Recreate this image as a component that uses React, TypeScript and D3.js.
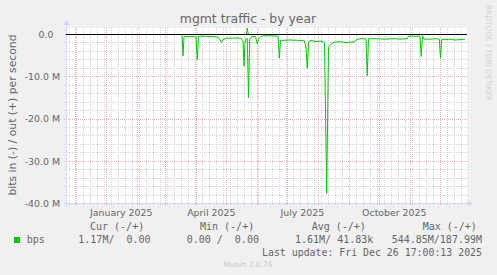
import React from 'react';
import * as d3 from 'd3';

const W = 497;
const H = 275;

const titleText = 'mgmt traffic - by year';
const yAxisTitle = 'bits in (-) / out (+) per second';
const watermark = 'RRDTOOL / TOBI OETIKER';
const footer = 'Munin 2.0.76';
const lastUpdate = 'Last update: Fri Dec 26 17:00:13 2025';

const endTime = new Date('2025-12-26T17:00:13');
const startTime = new Date(endTime.getTime() - 400 * 864e5);

const yTicksM = [0, -10, -20, -30, -40];
const yMinorStepM = 2;
const yTopM = 1.54;
const xLabelMonths = ['2025-01-01T00:00', '2025-04-01T00:00', '2025-07-01T00:00', '2025-10-01T00:00'];

// "in" traffic (Mbit/s), drawn negated
const inDates = [
  '2025-03-17T17:00', '2025-03-18T17:00', '2025-03-19T17:00', '2025-03-31T17:00', '2025-04-02T00:00',
  '2025-04-03T05:00', '2025-04-09T17:00', '2025-04-16T17:00', '2025-04-22T17:00', '2025-04-24T17:00',
  '2025-04-26T05:00', '2025-04-27T17:00', '2025-04-30T17:00', '2025-05-02T17:00', '2025-05-06T17:00',
  '2025-05-10T17:00', '2025-05-15T17:00', '2025-05-17T17:00', '2025-05-18T17:00', '2025-05-19T17:00',
  '2025-05-20T17:00', '2025-05-22T00:00', '2025-05-23T05:00', '2025-05-24T10:00', '2025-05-26T17:00',
  '2025-05-30T05:00', '2025-06-01T00:00', '2025-06-02T17:00', '2025-06-05T17:00', '2025-06-13T17:00',
  '2025-06-21T17:00', '2025-06-23T00:00', '2025-06-24T05:00', '2025-07-03T17:00', '2025-07-13T17:00',
  '2025-07-18T05:00', '2025-07-19T17:00', '2025-07-21T00:00', '2025-07-22T05:00', '2025-07-23T17:00',
  '2025-07-25T17:00', '2025-07-28T17:00', '2025-07-31T17:00', '2025-08-04T17:00', '2025-08-07T05:00',
  '2025-08-09T10:00', '2025-08-11T05:00', '2025-08-13T17:00', '2025-08-16T17:00', '2025-08-22T17:00',
  '2025-08-27T17:00', '2025-09-01T17:00', '2025-09-05T17:00', '2025-09-08T17:00', '2025-09-11T17:00',
  '2025-09-17T17:00', '2025-09-18T22:00', '2025-09-20T05:00', '2025-09-26T17:00', '2025-10-06T17:00',
  '2025-10-16T17:00', '2025-10-21T17:00', '2025-10-29T00:00', '2025-10-30T05:00', '2025-11-05T17:00',
  '2025-11-10T17:00', '2025-11-11T22:00', '2025-11-13T05:00', '2025-11-14T17:00', '2025-11-20T17:00',
  '2025-11-26T17:00', '2025-11-30T00:00', '2025-12-01T05:00', '2025-12-02T12:00', '2025-12-06T17:00',
  '2025-12-10T17:00', '2025-12-15T17:00', '2025-12-20T17:00', '2025-12-25T17:00',
];
const inMbps = [
  0, 5.1, 0.5, 0.5, 5.9,
  0.4, 0.4, 0.5, 0.6, 1.3,
  1.9, 1.1, 1.0, 0.8, 0.9,
  0.8, 0.9, 1.5, 7.5, 2.0,
  1.0, 1.0, 15.0, 1.2, 0.4,
  0.5, 2.2, 0.9, 0.3, 0.3,
  0.4, 5.6, 1.4, 1.3, 1.4,
  1.5, 3.2, 8.0, 2.0, 1.5,
  1.4, 1.7, 1.6, 1.6, 2.0,
  37.6, 3.0, 2.3, 1.8, 1.7,
  1.9, 1.8, 1.8, 1.2, 1.0,
  1.0, 9.8, 1.0, 1.0, 1.1,
  1.0, 1.1, 1.0, 0.4, 0.4,
  0.4, 5.2, 0.3, 1.1, 1.1,
  1.0, 1.1, 5.6, 1.1, 1.2,
  1.1, 1.3, 1.2, 1.1,
];

// "out" traffic (Mbit/s), drawn positive
const outDates = ['2025-03-17T17:00', '2025-05-21T00:00', '2025-05-22T00:00', '2025-05-23T00:00', '2025-12-25T17:00'];
const outMbps = [0, 0, 1.5, 0, 0];

const legendName = 'bps';
const legendHeaders = ['Cur (-/+)', 'Min (-/+)', 'Avg (-/+)', 'Max (-/+)'];
const legendValues = ['1.17M/  0.00', '0.00 /  0.00', '1.61M/ 41.83k', '544.85M/187.99M'];

const SANS = '"DejaVu Sans", Verdana, sans-serif';
const MONO = '"DejaVu Sans Mono", monospace';
const FONT = '#666666';
const AXIS = '#CFD6F8';
const GREEN = '#00CC00';
const MINOR = '#d4d4d4';
const MAJOR = '#f0acac';

export default function App() {
  const left = 66, right = 466, top = 28, bottom = 203.5;
  const x = d3.scaleTime().domain([startTime, endTime]).range([left, right]);
  const y = d3.scaleLinear().domain([-40, yTopM]).range([bottom, top]);
  const crisp = (v: number) => Math.floor(v) + 0.5;

  const inPts = inDates.map((d, i) => [new Date(d), -inMbps[i]] as [Date, number]);
  const outPts = outDates.map((d, i) => [new Date(d), outMbps[i]] as [Date, number]);
  const line = d3.line<[Date, number]>().x(d => x(d[0])).y(d => y(d[1]));

  const weeks = d3.timeMonday.range(startTime, endTime);
  const months = d3.timeMonth.range(startTime, endTime);
  const minorY = d3.range(-40, 0.001, yMinorStepM).filter(v => !yTicksM.includes(Math.round(v)));
  const fmtMonth = d3.timeFormat('%B %Y');
  const fmtTick = (v: number) => (v === 0 ? '0.0' : `${v.toFixed(1)} M`);

  return (
    <svg width={W} height={H} style={{ display: 'block', position: 'absolute', left: 0, top: 0 }}>
      <rect x={0} y={0} width={W} height={H} fill="#F0F0F0" />
      <rect x={left} y={top} width={right - left + 1} height={bottom - top} fill="#FFFFFF" />

      {/* minor grid */}
      {weeks.map((d, i) => (
        <line key={'w' + i} x1={crisp(x(d))} x2={crisp(x(d))} y1={top} y2={bottom + 2.5}
          stroke={MINOR} strokeWidth={1} strokeDasharray="1,1" />
      ))}
      {minorY.map((v, i) => (
        <line key={'my' + i} x1={left - 2} x2={right + 1} y1={crisp(y(v))} y2={crisp(y(v))}
          stroke={MINOR} strokeWidth={1} strokeDasharray="1,1" />
      ))}
      {/* major grid */}
      {months.map((d, i) => (
        <line key={'m' + i} x1={crisp(x(d))} x2={crisp(x(d))} y1={top} y2={bottom + 2.5}
          stroke={MAJOR} strokeWidth={1} strokeDasharray="1,1" />
      ))}
      {yTicksM.map((v, i) => (
        <line key={'My' + i} x1={left - 2} x2={right + 1} y1={crisp(y(v))} y2={crisp(y(v))}
          stroke={MAJOR} strokeWidth={1} strokeDasharray="1,1" />
      ))}

      {/* axes */}
      <line x1={left - 2} x2={right + 3} y1={crisp(bottom)} y2={crisp(bottom)} stroke={AXIS} />
      <line x1={left + 0.5} x2={left + 0.5} y1={bottom + 3} y2={top - 3} stroke={AXIS} />
      <path d={`M${left - 2.5},${top - 3} L${left + 3.5},${top - 3} L${left + 0.5},${top - 8} Z`} fill={AXIS} />
      <path d={`M${right + 2},${bottom - 3} L${right + 2},${bottom + 3} L${right + 7},${bottom} Z`} fill={AXIS} />

      {/* data */}
      <path d={line(outPts) || ''} fill="none" stroke={GREEN} strokeWidth={1} />
      <path d={line(inPts) || ''} fill="none" stroke={GREEN} strokeWidth={1} />
      <line x1={left} x2={right + 1} y1={crisp(y(0))} y2={crisp(y(0))} stroke="#000000" strokeWidth={1} />

      {/* y tick labels */}
      {yTicksM.map((v, i) => (
        <text key={'yt' + i} x={v === 0 ? 53.5 : 60} y={y(v)} dy="0.35em" textAnchor="end"
          fontFamily={SANS} fontSize={9.4} fill={FONT}>{fmtTick(v)}</text>
      ))}
      {/* x labels */}
      {xLabelMonths.map((m, i) => {
        const d = new Date(m);
        const c = new Date(d.getTime() + 15 * 864e5);
        return (
          <text key={'xl' + i} x={x(c)} y={216} textAnchor="middle" fontFamily={SANS} fontSize={9.4} fill={FONT}>
            {fmtMonth(d)}
          </text>
        );
      })}

      {/* titles */}
      <text x={248} y={23} textAnchor="middle" fontFamily={SANS} fontSize={12.4} fill={FONT}>{titleText}</text>
      <text transform={`translate(16,115) rotate(-90)`} textAnchor="middle" fontFamily={SANS} fontSize={10.8} fill={FONT}>
        {yAxisTitle}
      </text>
      <text transform={`translate(485.5,53) rotate(90)`} textAnchor="middle" fontFamily={SANS} fontSize={7.5} fill="#d0d0d0">
        {watermark}
      </text>

      {/* legend */}
      {legendHeaders.map((h, i) => (
        <text key={'lh' + i} x={[90, 200, 311.7, 422.7][i]} y={230} fontFamily={MONO} fontSize={10}
          fill={FONT} style={{ whiteSpace: 'pre' }}>{h}</text>
      ))}
      <rect x={14} y={237} width={6} height={6} fill={GREEN} />
      <text x={26.7} y={243} fontFamily={MONO} fontSize={10} fill={FONT}>{legendName}</text>
      {legendValues.map((v, i) => (
        <text key={'lv' + i} x={[78.3, 186.7, 295, 391.7][i]} y={243} fontFamily={MONO} fontSize={10}
          fill={FONT} style={{ whiteSpace: 'pre' }}>{v}</text>
      ))}
      <text x={482} y={255.5} textAnchor="end" fontFamily={MONO} fontSize={9.9} fill={FONT}
        style={{ whiteSpace: 'pre' }}>{lastUpdate}</text>
      <text x={248} y={267} textAnchor="middle" fontFamily={SANS} fontSize={7.5} fill="#c8c8c8">{footer}</text>
    </svg>
  );
}
